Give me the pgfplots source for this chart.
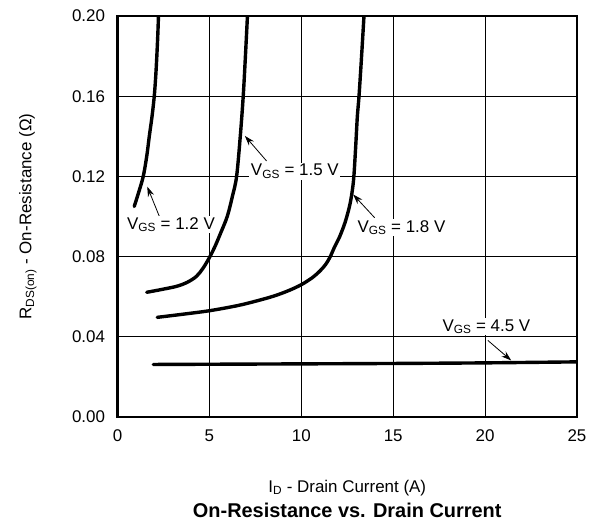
\documentclass[border=0pt]{standalone}
\usepackage{fontspec}
\setmainfont{Liberation Sans}
\usepackage{pgfplots}
\pgfplotsset{compat=1.18}
\usetikzlibrary{arrows.meta}

\newcommand{\vgs}[1]{V\textsubscript{GS} = #1 V}
\tikzset{note/.style={-{Stealth[length=10bp,width=6.5bp]}, line width=0.8bp}}

\begin{document}
\begin{tikzpicture}
\path[use as bounding box] (-117.5bp,-107bp) rectangle (472.5bp,417bp);
\begin{axis}[
  scale only axis,
  width=459.5bp, height=401bp,
  at={(0,0)}, anchor=south west,
  xmin=0, xmax=25, ymin=0, ymax=0.20,
  xtick={0,5,...,25},
  ytick={0,0.04,0.08,0.12,0.16,0.20},
  grid=major,
  major grid style={black, line width=0.8bp},
  axis line style={line width=2.4bp},
  major tick length=0pt,
  font=\fontsize{17}{20}\selectfont,
  /pgf/number format/assume math mode=true,
  scaled y ticks=false,
  yticklabel style={/pgf/number format/fixed, /pgf/number format/fixed zerofill,
    /pgf/number format/precision=2, xshift=-9bp},
  xticklabel style={yshift=-9bp},
  xlabel={I\textsubscript{D} - Drain Current (A)},
  ylabel={R\textsubscript{DS(on)} - On-Resistance (Ω)},
  xlabel style={at={(axis description cs:0.5,-0.177)}, anchor=center},
  ylabel style={at={(axis description cs:-0.195,0.5)}, anchor=center},
  title={On-Resistance vs. Drain Current},
  title style={at={(axis description cs:0.5,-0.249)}, anchor=center,
    font=\fontsize{20}{24}\selectfont\bfseries},
  curve/.style={black, no markers, line width=3.4bp, line cap=round, smooth, tension=0.55},
]
% VGS = 1.2 V
\addplot[curve] coordinates {
  (0.91,0.105) (1.15,0.112) (1.40,0.120) (1.59,0.130) (1.73,0.140)
  (1.88,0.150) (2.00,0.160) (2.08,0.170) (2.14,0.180) (2.19,0.190) (2.23,0.200)
};
% VGS = 1.5 V
\addplot[curve] coordinates {
  (1.59,0.0622) (2.4,0.0636) (3.22,0.0652) (3.8,0.0672) (4.30,0.0702)
  (4.66,0.0743) (5.0,0.0795) (5.3,0.0850) (5.6,0.0915) (5.97,0.100)
  (6.25,0.110) (6.48,0.120) (6.68,0.140) (6.84,0.160) (6.96,0.180) (7.07,0.200)
};
% VGS = 1.8 V
\addplot[curve] coordinates {
  (2.16,0.0497) (3.5,0.0512) (5.0,0.0530) (6.5,0.0555) (7.49,0.0577)
  (8.5,0.0603) (9.3,0.0630) (10.0,0.0660) (10.6,0.0695) (11.0,0.0727)
  (11.3,0.0758) (11.55,0.0795) (11.82,0.0850) (12.09,0.0900) (12.38,0.0970)
  (12.62,0.105) (12.76,0.112) (12.86,0.120) (12.96,0.135) (13.05,0.150)
  (13.14,0.160) (13.28,0.180) (13.41,0.200)
};
% VGS = 4.5 V
\addplot[curve] coordinates {
  (1.95,0.0262) (10,0.0265) (15,0.0267) (20,0.0270) (25,0.0275)
};

\draw[note] (axis cs:2.27,0.1002) -- (axis cs:1.62,0.1149);
\draw[note] (axis cs:8.11,0.1277) -- (axis cs:6.93,0.1402);
\draw[note] (axis cs:13.99,0.0994) -- (axis cs:12.82,0.111);
\draw[note] (axis cs:20.15,0.0382) -- (axis cs:21.42,0.0282);

\node[fill=white, inner sep=1.5bp] at (axis cs:2.91,0.096) {\vgs{1.2}};
\node[fill=white, inner sep=1.5bp] at (axis cs:9.65,0.1225) {\vgs{1.5}};
\node[fill=white, inner sep=1.5bp] at (axis cs:15.45,0.0944) {\vgs{1.8}};
\node[fill=white, inner sep=1.5bp] at (axis cs:20.07,0.045) {\vgs{4.5}};
\end{axis}
\end{tikzpicture}
\end{document}
